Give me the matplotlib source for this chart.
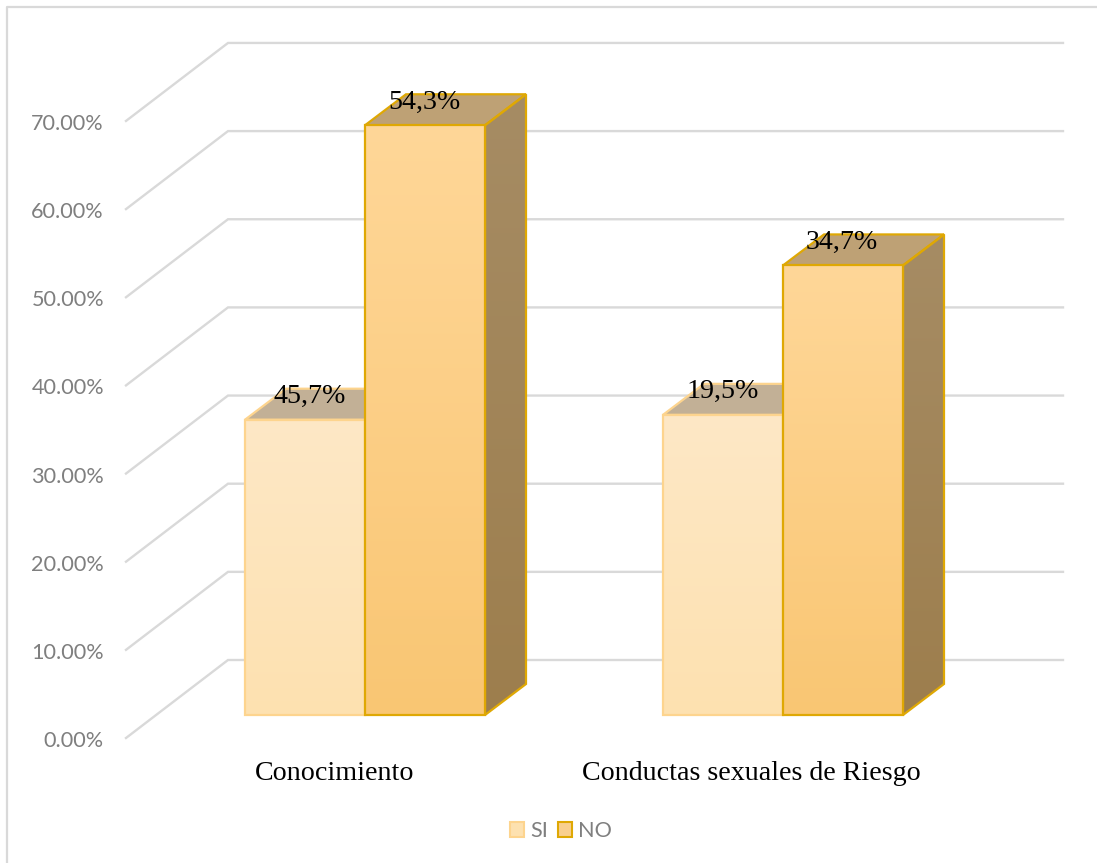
import numpy as np
import matplotlib
matplotlib.use("Agg")
import matplotlib.pyplot as plt
from matplotlib.colors import LinearSegmentedColormap
from matplotlib.lines import Line2D
from matplotlib.patches import Patch, Polygon

categories = ["Conocimiento", "Conductas sexuales de Riesgo"]
series_names = ["SI", "NO"]
# bar heights against the percent axis
si_values = [33.5, 34.05]
no_values = [66.9, 51.0]
# data labels as printed on the bars
si_labels = ["45,7%", "19,5%"]
no_labels = ["54,3%", "34,7%"]
axis_ticks = [0, 10, 20, 30, 40, 50, 60, 70]

# fake 3d layout, in pixels
PX_PER_PCT = 8.815
WALL_LEFT, WALL_RIGHT, WALL_ZERO = 228, 1063, 660
FLOOR_LEFT, FLOOR_ZERO = 126, 738
BAR_LEFT = [245, 663]
BAR_W = 120
BAR_BASE = 715
DEPTH_X, DEPTH_Y = 41, 31

GRID = "#d9d9d9"
TEXT_GREY = "#7f7f7f"
SI_EDGE, NO_EDGE = "#fdd48e", "#dfa804"
SI_FRONT = ("#fee8c6", "#fde1b0")
NO_FRONT = ("#ffd798", "#f9c673")
NO_SIDE = ("#a68c64", "#9d7e4d")
SI_TOP, NO_TOP = "#c2b096", "#bea175"

SERIF = "Liberation Serif"
SANS = "Lato"


def val_y(base, value):
    return base - value * PX_PER_PCT


def shaded(ax, pts, colors, edge, lw=1.6, z=3):
    # polygon with a vertical colour ramp, clipped from an image
    pts = np.array(pts)
    cmap = LinearSegmentedColormap.from_list("ramp", colors)
    x0, x1 = pts[:, 0].min(), pts[:, 0].max()
    y0, y1 = pts[:, 1].min(), pts[:, 1].max()
    im = ax.imshow(np.linspace(0, 1, 256).reshape(-1, 1), cmap=cmap, aspect="auto",
                   extent=(x0, x1, y1, y0), zorder=z, interpolation="bilinear")
    poly = Polygon(pts, closed=True, fc="none", ec=edge, lw=lw, zorder=z + 0.1, joinstyle="miter")
    ax.add_patch(poly)
    im.set_clip_path(poly)


def draw_bar(ax, left, value, front, side, top, edge, z):
    right = left + BAR_W
    y_top = val_y(BAR_BASE, value)
    shaded(ax, [(right, BAR_BASE), (right + DEPTH_X, BAR_BASE - DEPTH_Y),
                (right + DEPTH_X, y_top - DEPTH_Y), (right, y_top)], side, edge, z=z)
    ax.add_patch(Polygon([(left, y_top), (right, y_top), (right + DEPTH_X, y_top - DEPTH_Y),
                          (left + DEPTH_X, y_top - DEPTH_Y)], closed=True, fc=top, ec=edge,
                         lw=1.6, zorder=z))
    shaded(ax, [(left, BAR_BASE), (right, BAR_BASE), (right, y_top), (left, y_top)],
           front, edge, z=z + 0.5)


fig = plt.figure(figsize=(10.97, 8.63), dpi=100)
ax = fig.add_axes([0, 0, 1, 1])
ax.set_axis_off()

# chart frame only shows on the left and top
ax.add_line(Line2D([7, 7, 1097], [863, 7, 7], color=GRID, lw=1.6))

for t in axis_ticks:
    back = val_y(WALL_ZERO, t)
    front = val_y(FLOOR_ZERO, t)
    ax.plot([FLOOR_LEFT, WALL_LEFT, WALL_RIGHT], [front, back, back], color=GRID, lw=1.7,
            zorder=1, solid_joinstyle="miter")
    ax.text(104, front + 3, f"{t:.2f}%", ha="right", va="center", family=SANS,
            fontsize=15.6, color=TEXT_GREY)

for i, cat in enumerate(categories):
    left = BAR_LEFT[i]
    draw_bar(ax, left, si_values[i], SI_FRONT, ("#d8c8a8", "#d8c8a8"), SI_TOP, SI_EDGE, 3)
    draw_bar(ax, left + BAR_W, no_values[i], NO_FRONT, NO_SIDE, NO_TOP, NO_EDGE, 4)
    ax.text(left + BAR_W / 2 + (5 if i == 0 else 0), val_y(BAR_BASE, si_values[i]) - 23, si_labels[i],
            ha="center", va="center", family=SERIF, fontsize=20.2, color="black", zorder=6)
    ax.text(left + BAR_W * 1.5 - 1, val_y(BAR_BASE, no_values[i]) - 23, no_labels[i],
            ha="center", va="center", family=SERIF, fontsize=20.2, color="black", zorder=6)
    ax.text(left + BAR_W - (30 if i == 0 else 32), 773, cat, ha="center", va="center",
            family=SERIF, fontsize=20.2, color="black")

handles = [Patch(fc=SI_FRONT[1], ec=SI_EDGE, lw=1.5), Patch(fc="#f9cf8f", ec=NO_EDGE, lw=1.5)]
ax.legend(handles, series_names, loc="center", bbox_to_anchor=(561 / 1097, 1 - 831 / 863),
          bbox_transform=fig.transFigure, ncol=2, frameon=False, handlelength=0.65, handleheight=0.65,
          handletextpad=0.3, columnspacing=0.45, labelcolor=TEXT_GREY,
          prop={"family": SANS, "size": 15.6})

ax.set_xlim(0, 1097)
ax.set_ylim(863, 0)
fig.savefig("out.png", dpi=100, facecolor="white")
